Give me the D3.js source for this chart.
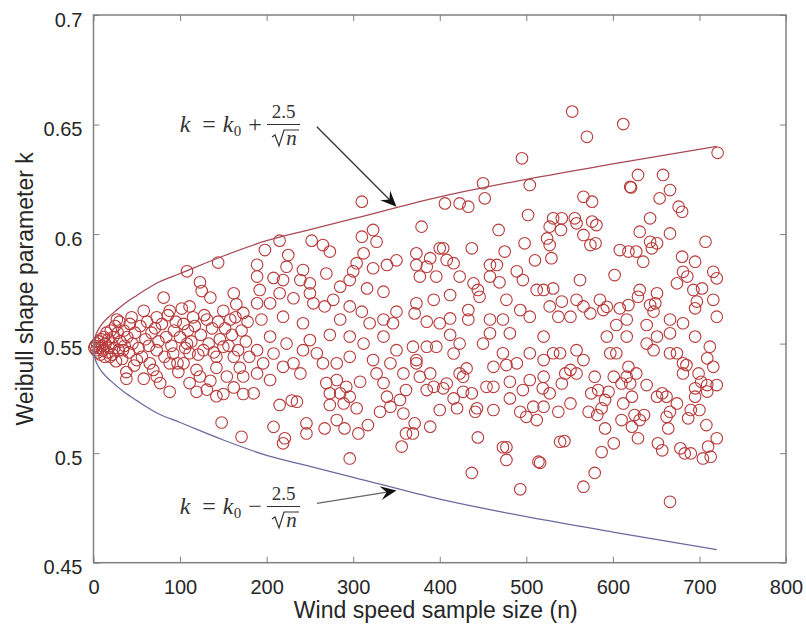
<!DOCTYPE html>
<html><head><meta charset="utf-8">
<script src="https://cdn.jsdelivr.net/npm/d3@7/dist/d3.min.js"></script>
<style>body{margin:0;background:#fff}svg{display:block}</style>
</head><body>
<svg id="chart" width="806" height="633"></svg>
<script>
// ---------- data ----------
const xTicks = [0, 100, 200, 300, 400, 500, 600, 700, 800];
const yTicks = [0.45, 0.5, 0.55, 0.6, 0.65, 0.7];
const yTickLabels = ["0.45", "0.5", "0.55", "0.6", "0.65", "0.7"];
const xTitle = "Wind speed sample size (n)";
const yTitle = "Weibull shape parameter k";

// bound curves
const curveN = [0, 2, 5, 10, 20, 35, 50, 75, 100, 150, 200, 250, 300, 400, 500, 600, 720];
const upperK = [0.548, 0.553, 0.556, 0.559, 0.563, 0.568, 0.572, 0.578, 0.582, 0.590, 0.597, 0.602, 0.607, 0.617, 0.625, 0.632, 0.640];
const lowerK = [0.548, 0.543, 0.540, 0.537, 0.533, 0.528, 0.524, 0.518, 0.514, 0.506, 0.499, 0.494, 0.489, 0.479, 0.471, 0.464, 0.456];

// scattered estimates [n, k]
const samplePoints = [
[1,0.548],[2,0.549],[3,0.547],[4,0.550],[5,0.546],[6,0.551],[7,0.548],[8,0.545],[9,0.552],[10,0.549],[11,0.547],[12,0.553],[13,0.544],[14,0.550],[15,0.555],[16,0.546],[17,0.552],[18,0.548],[20,0.556],[21,0.550],[22,0.545],[23,0.553],[24,0.548],[25,0.558],[26,0.542],[28,0.555],[29,0.547],[30,0.560],[31,0.551],[33,0.543],[35,0.556],[36,0.549],[39,0.553],[41,0.546],[44,0.562],[45,0.550],[47,0.540],[48,0.555],[52,0.548],[54,0.558],[56,0.544],[60,0.552],[62,0.560],[64,0.549],[67,0.555],[69,0.538],[71,0.557],[75,0.551],[79,0.559],[82,0.544],[84,0.553],[86,0.563],[90,0.549],[93,0.556],[95,0.560],[97,0.541],[100,0.553],[102,0.566],[106,0.548],[109,0.556],[113,0.551],[117,0.558],[121,0.545],[124,0.554],[128,0.563],[133,0.550],[137,0.557],[139,0.546],[144,0.560],[146,0.552],[152,0.557],[156,0.549],[160,0.554],[164,0.562],[167,0.547],[171,0.556],[176,0.551],[178,0.560],[180,0.544],
[144,0.587],[108,0.583],[123,0.578],[125,0.574],[135,0.571],[162,0.573],[81,0.571],[27,0.561],[58,0.565],[73,0.562],[88,0.565],[111,0.567],[115,0.562],[131,0.561],[150,0.565],[158,0.561],[173,0.564],[42,0.559],[104,0.559],[165,0.568],
[38,0.537],[38,0.534],[58,0.534],[73,0.535],[77,0.532],[88,0.528],[98,0.537],[88,0.541],[111,0.532],[119,0.538],[123,0.535],[119,0.528],[131,0.529],[142,0.526],[135,0.533],[150,0.527],[154,0.535],[162,0.530],[173,0.527],[173,0.535],[148,0.514],[171,0.5075],[19,0.544],[50,0.5425],[65,0.541],[34,0.547],[73,0.547],[92,0.5455],[108,0.550],[111,0.5456],[127,0.547],[142,0.544],[150,0.5486],[162,0.544],[169,0.539],[142,0.539],[104,0.541],
[310,0.6148],[215,0.597],[198,0.5927],[225,0.5904],[252,0.597],[265,0.595],[273,0.592],[310,0.5988],[323,0.6019],[327,0.5965],[312,0.5912],[339,0.5859],[350,0.588],[189,0.586],[223,0.5851],[242,0.5836],[269,0.582],[304,0.5867],[300,0.583],[323,0.5844],[189,0.5806],[208,0.580],[219,0.579],[239,0.579],[250,0.5775],[296,0.579],[316,0.5752],[335,0.5737],[192,0.5745],[215,0.573],[250,0.573],[285,0.576],[277,0.570],[189,0.5684],[204,0.5684],[231,0.5707],[254,0.5684],[267,0.567],[296,0.567],[310,0.5646],[350,0.5646],[335,0.561],[219,0.5623],[242,0.5593],[194,0.561],[285,0.561],[319,0.5593],[346,0.5593],
[215,0.522],[235,0.5235],[229,0.524],[208,0.512],[221,0.5068],[219,0.5045],[246,0.5136],[246,0.509],[267,0.5113],[281,0.5151],[290,0.5113],[304,0.5205],[306,0.509],[317,0.5128],[296,0.4976],[331,0.5189],[356,0.503],[361,0.509],[273,0.5273],[273,0.522],[289,0.5227],[285,0.5273],[296,0.5258],[269,0.532],[281,0.5334],[292,0.5303],[308,0.5326],[335,0.532],[339,0.5258],[343,0.5212],[354,0.5243],[358,0.5181],[361,0.5288],[185,0.5273],[204,0.5334],[189,0.5364],[219,0.5394],[239,0.5364],[231,0.541],[196,0.541],[189,0.547],[208,0.5455],[223,0.55],[242,0.547],[258,0.5456],[250,0.5516],[265,0.541],[281,0.541],[296,0.544],[312,0.55],[323,0.5425],[327,0.5364],[343,0.541],[350,0.547],[358,0.5364],[335,0.5532],[296,0.5532],[273,0.554],[204,0.5532],
[553,0.6559],[495,0.6346],[504,0.6224],[450,0.6232],[452,0.6163],[406,0.614],[423,0.614],[433,0.6125],[379,0.6034],[468,0.6019],[502,0.6087],[531,0.6072],[541,0.6072],[527,0.6034],[540,0.6019],[524,0.598],[527,0.595],[373,0.5912],[400,0.5935],[404,0.5935],[437,0.5935],[475,0.592],[498,0.5958],[510,0.588],[529,0.589],[389,0.589],[408,0.5882],[416,0.5867],[373,0.5859],[385,0.5851],[377,0.5806],[396,0.5806],[423,0.5806],[458,0.5859],[466,0.5859],[489,0.583],[496,0.579],[469,0.578],[439,0.5775],[458,0.5806],[444,0.5745],[446,0.5714],[477,0.570],[512,0.5745],[531,0.5752],[520,0.5745],[393,0.570],[412,0.5722],[373,0.5684],[371,0.5638],[412,0.5615],[433,0.5653],[433,0.561],[458,0.561],[473,0.561],[493,0.5653],[504,0.5623],[527,0.567],[541,0.5692],[537,0.5623],[385,0.56],[400,0.5593],
[437,0.491],[493,0.4835],[444,0.5072],[473,0.5027],[477,0.5027],[477,0.4969],[514,0.4961],[516,0.4956],[539,0.5052],[544,0.5055],[389,0.5121],[400,0.5197],[420,0.5205],[441,0.5189],[443,0.5205],[462,0.5197],[481,0.525],[493,0.5189],[500,0.5166],[508,0.5212],[512,0.5151],[520,0.5212],[537,0.5189],[371,0.5136],[369,0.509],[385,0.5288],[404,0.5296],[416,0.525],[427,0.528],[437,0.5273],[462,0.5303],[481,0.5326],[496,0.5288],[504,0.5334],[519,0.5296],[527,0.5273],[520,0.5349],[541,0.5318],[373,0.541],[377,0.5349],[393,0.5303],[389,0.5364],[408,0.5318],[423,0.5364],[431,0.5387],[427,0.5349],[454,0.5303],[462,0.5394],[477,0.5402],[489,0.541],[504,0.5456],[520,0.5425],[531,0.5456],[545,0.5364],[373,0.5425],[369,0.5486],[385,0.5486],[396,0.5486],[416,0.5455],[423,0.55],[450,0.55],[458,0.5547],[473,0.5456],[481,0.5547],[520,0.5532],[539,0.5456],[412,0.554],
[612,0.6502],[570,0.6444],[721,0.6371],[629,0.627],[658,0.627],[620,0.6216],[621,0.6213],[666,0.6201],[654,0.6163],[566,0.617],[576,0.6148],[676,0.6125],[680,0.6102],[643,0.6072],[556,0.6072],[576,0.6057],[581,0.6041],[558,0.6049],[631,0.6011],[666,0.6003],[566,0.5996],[574,0.595],[580,0.5958],[643,0.5965],[645,0.5935],[651,0.5958],[707,0.5965],[608,0.5927],[618,0.592],[627,0.592],[635,0.5874],[680,0.5897],[695,0.5874],[681,0.5828],[686,0.5806],[716,0.5828],[720,0.5798],[602,0.5813],[562,0.579],[674,0.5775],[693,0.5745],[703,0.5752],[631,0.5745],[629,0.5714],[651,0.573],[643,0.5676],[649,0.5684],[697,0.5692],[695,0.5661],[716,0.570],[720,0.5623],[558,0.570],[566,0.567],[585,0.570],[593,0.5668],[574,0.5638],[589,0.5653],[608,0.5661],[618,0.5676],[616,0.561],[647,0.5646],[666,0.561],[681,0.5593],[639,0.5585],[604,0.5585],[551,0.5623],
[666,0.4778],[566,0.4847],[579,0.491],[587,0.5005],[601,0.5045],[652,0.5045],[657,0.5013],[678,0.5022],[683,0.4999],[690,0.4999],[704,0.4976],[713,0.4984],[710,0.503],[720,0.5068],[664,0.5113],[629,0.5068],[622,0.5121],[591,0.5113],[610,0.5151],[631,0.5151],[636,0.5174],[625,0.5174],[572,0.5189],[587,0.5205],[591,0.5243],[582,0.5174],[662,0.5166],[666,0.5189],[687,0.5159],[700,0.5197],[708,0.5128],[690,0.5197],[651,0.5258],[657,0.5273],[662,0.5258],[674,0.5227],[695,0.5258],[695,0.5296],[709,0.5281],[720,0.5311],[639,0.5311],[622,0.5258],[612,0.5227],[620,0.5318],[610,0.5318],[601,0.5349],[616,0.5349],[579,0.5349],[583,0.5288],[595,0.528],[575,0.5273],[551,0.5227],[627,0.5364],[618,0.5394],[681,0.5364],[685,0.5402],[699,0.5364],[702,0.5326],[709,0.5311],[558,0.547],[566,0.5425],[558,0.5364],[551,0.538],[593,0.5532],[597,0.5456],[604,0.5456],[616,0.5532],[639,0.55],[647,0.547],[651,0.5532],[666,0.5456],[674,0.5456],[681,0.541],[695,0.5532],[712,0.5486],[709,0.5433],[716,0.5394],[666,0.5547]
];

// annotation arrows in data units: [tail, tip]
const upperArrow = [[258, 0.649], [350, 0.6125]];
const lowerArrow = [[258, 0.4771], [350, 0.4829]];

// ---------- drawing ----------
const svg = d3.select("#chart");
const L = 93.5, R = 786, T = 15, B = 562.7;
const x = d3.scaleLinear().domain([0, 800]).range([L, R]);
const y = d3.scaleLinear().domain([0.45, 0.7]).range([B, T]);
const font = "'Liberation Sans', Arial, Helvetica, sans-serif";
const axisColor = "#808080";
const textColor = "#262626";

svg.append("rect").attr("width", 806).attr("height", 633).attr("fill", "#fff");

// scatter
svg.append("g").selectAll("circle").data(samplePoints).join("circle")
  .attr("cx", d => x(d[0])).attr("cy", d => y(d[1])).attr("r", 5.8)
  .attr("fill", "none").attr("stroke", "#b83a3a").attr("stroke-width", 1.1);

// curves
const line = (ks) => d3.line().x((d, i) => x(curveN[i])).y(d => y(d)).curve(d3.curveMonotoneX)(ks);
svg.append("path").attr("d", line(upperK)).attr("fill", "none").attr("stroke", "#a84a55").attr("stroke-width", 1.3);
svg.append("path").attr("d", line(lowerK)).attr("fill", "none").attr("stroke", "#6a6aa0").attr("stroke-width", 1.3);

// axes
function styleAxis(g) {
  g.selectAll(".domain").remove();
  g.selectAll(".tick line").attr("stroke", axisColor).attr("stroke-width", 1);
  g.selectAll("text").attr("fill", textColor).attr("font-family", font).attr("font-size", 20);
}
svg.append("g").attr("transform", `translate(0,${B})`)
  .call(d3.axisBottom(x).tickValues(xTicks).tickSize(-6).tickPadding(17).tickFormat(d3.format("d")))
  .call(styleAxis);
svg.append("g").attr("transform", `translate(0,${T})`)
  .call(d3.axisTop(x).tickValues(xTicks).tickSize(-6).tickFormat(""))
  .call(styleAxis);
svg.append("g").attr("transform", `translate(${L},0)`)
  .call(d3.axisLeft(y).tickValues(yTicks).tickSize(-6).tickPadding(11).tickFormat((d, i) => yTickLabels[i]))
  .call(styleAxis)
  .selectAll("text").attr("dy", "0.55em");
svg.append("g").attr("transform", `translate(${R},0)`)
  .call(d3.axisRight(y).tickValues(yTicks).tickSize(-6).tickFormat(""))
  .call(styleAxis);
svg.append("rect").attr("x", L).attr("y", T).attr("width", R - L).attr("height", B - T)
  .attr("fill", "none").attr("stroke", axisColor).attr("stroke-width", 1.5);

// titles
svg.append("text").attr("x", (L + R) / 2 - 4).attr("y", 618).attr("text-anchor", "middle")
  .attr("font-family", font).attr("font-size", 23).attr("fill", textColor).text(xTitle);
svg.append("text").attr("transform", `translate(33,${(T + B) / 2}) rotate(-90)`).attr("text-anchor", "middle")
  .attr("font-family", font).attr("font-size", 23).attr("fill", textColor).text(yTitle);

// math annotations
const mfont = "'Liberation Serif', 'DejaVu Serif', serif";
function formula(baseline, sign) {
  const g = svg.append("g").attr("font-family", mfont).attr("fill", "#333").attr("text-anchor", "middle");
  const glyph = (cx, cy, txt, size, italic) => g.append("text").attr("x", cx).attr("y", cy)
    .attr("font-size", size).attr("font-style", italic ? "italic" : "normal").text(txt);
  glyph(185, baseline, "k", 24, true);
  glyph(209, baseline, "=", 24, false);
  glyph(228, baseline, "k", 24, true);
  glyph(237.5, baseline + 4, "0", 15, false);
  glyph(255, baseline, sign === "+" ? "+" : "\u2212", 24, false);
  // fraction
  glyph(283.5, baseline - 14, "2.5", 19, false);
  g.append("line").attr("x1", 267).attr("x2", 300).attr("y1", baseline - 7.5).attr("y2", baseline - 7.5)
    .attr("stroke", "#333").attr("stroke-width", 1.1);
  g.append("path").attr("d", `M272,${baseline + 5} L275,${baseline + 3} L279,${baseline + 14} L284,${baseline - 2} L299,${baseline - 2}`)
    .attr("fill", "none").attr("stroke", "#333").attr("stroke-width", 1.2);
  glyph(291.5, baseline + 13, "n", 21, true);
}
formula(132, "+");
formula(514, "-");

function arrow(pts, col) {
  const [x1, y1] = [x(pts[0][0]), y(pts[0][1])];
  const [x2, y2] = [x(pts[1][0]), y(pts[1][1])];
  const a = Math.atan2(y2 - y1, x2 - x1);
  svg.append("line").attr("x1", x1).attr("y1", y1).attr("x2", x2 - 8 * Math.cos(a)).attr("y2", y2 - 8 * Math.sin(a))
    .attr("stroke", col).attr("stroke-width", 1.3);
  svg.append("path").attr("d", "M0,0 L-16,-7 L-10,0 L-16,7 Z")
    .attr("transform", `translate(${x2},${y2}) rotate(${a * 180 / Math.PI})`).attr("fill", "#111");
}
arrow(upperArrow, "#333");
arrow(lowerArrow, "#666");
</script>
</body></html>
